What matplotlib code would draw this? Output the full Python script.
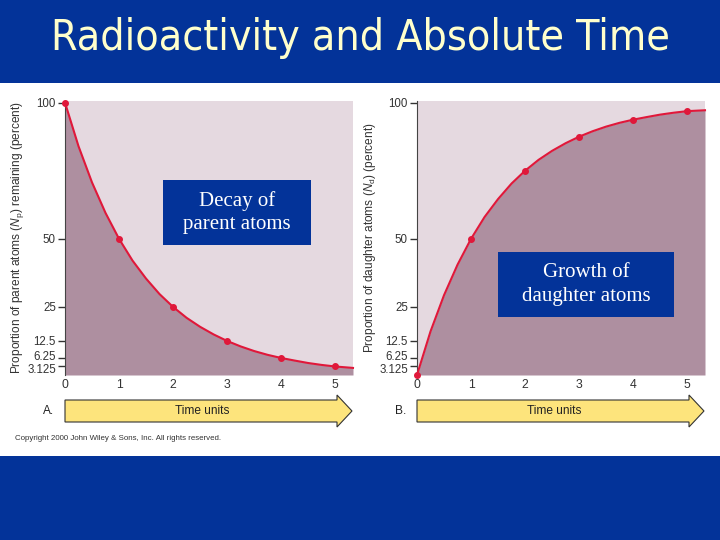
import matplotlib
matplotlib.use("Agg")
import matplotlib.pyplot as plt
import matplotlib.transforms as mtransforms
from matplotlib.patches import Rectangle, FancyArrow

# ---- data ----
half_lives = [0, 1, 2, 3, 4, 5]
parent_pts = [100, 50, 25, 12.5, 6.25, 3.125]
daughter_pts = [0, 50, 75, 87.5, 93.75, 96.875]

# curve
curve_t = [0, 0.25, 0.5, 0.75, 1, 1.25, 1.5, 1.75, 2, 2.25, 2.5, 2.75, 3,
           3.25, 3.5, 3.75, 4, 4.25, 4.5, 4.75, 5, 5.33]
parent_curve = [100, 84, 70.7, 59.5, 50, 42, 35.4, 29.7, 25, 21, 17.7, 14.9, 12.5,
                10.5, 8.8, 7.4, 6.25, 5.3, 4.4, 3.7, 3.125, 2.6]
daughter_curve = [0, 16, 29.3, 40.5, 50, 58, 64.6, 70.3, 75, 79, 82.3, 85.1, 87.5,
                  89.5, 91.2, 92.6, 93.75, 94.7, 95.6, 96.3, 96.875, 97.2]

yticks = [100, 50, 25, 12.5, 6.25, 3.125]
ytick_labels = ["100", "50", "25", "12.5", "6.25", "3.125"]
xticks = [0, 1, 2, 3, 4, 5]

title = "Radioactivity and Absolute Time"

BLUE = "#033399"
LIGHT = "#e5d9e0"
DARK = "#ae8fa0"
RED = "#e0183a"
YELLOW = "#fde47c"
SANS = "Liberation Sans"

plt.rcParams["mathtext.fontset"] = "custom"
plt.rcParams["mathtext.it"] = "Liberation Sans:italic"
plt.rcParams["mathtext.rm"] = "Liberation Sans"

fig = plt.figure(figsize=(7.2, 5.4), dpi=100)
fig.patch.set_facecolor(BLUE)

# white content band
fig.patches.append(Rectangle((0, 1 - 456 / 540), 1, (456 - 83) / 540,
                             transform=fig.transFigure, facecolor="white",
                             edgecolor="none", zorder=-5))

fig.text(0.5, 1 - 38 / 540, title, ha="center", va="center",
         fontsize=30.7, color="#ffffcc", family="DejaVu Sans",
         fontstretch="condensed")


def panel(left_px, ypts, ycurve, ylabel, letter, box_text, box_xy):
    ax = fig.add_axes([left_px / 720, 1 - 375 / 540, 288 / 720, 274 / 540])
    ax.set_zorder(1)
    ax.set_facecolor(LIGHT)
    ax.fill_between(curve_t, 0, ycurve, color=DARK, lw=0, zorder=1)
    ax.plot(curve_t, ycurve, color=RED, lw=1.5, zorder=3, clip_on=False)
    ax.plot(half_lives, ypts, "o", color=RED, ms=4, zorder=4, clip_on=False)
    ax.set_xlim(0, 5.33)
    ax.set_ylim(0, 100.6)
    ax.set_xticks(xticks)
    ax.set_yticks(yticks)
    ax.set_yticklabels(ytick_labels)
    ax.tick_params(axis="y", length=5, width=1, color="#333333",
                   labelsize=8.3, labelcolor="#333333", pad=1.5)
    ax.tick_params(axis="x", length=0, labelsize=8.8, labelcolor="#333333", pad=3)
    for lab in ax.get_xticklabels() + ax.get_yticklabels():
        lab.set_family(SANS)
    # small vertical nudges so the two lowest labels do not collide
    ylabs = ax.get_yticklabels()
    for lab, dy in [(ylabs[4], 2.2), (ylabs[5], -2.2)]:
        lab.set_transform(lab.get_transform() +
                          mtransforms.ScaledTranslation(0, dy / 100, fig.dpi_scale_trans))
    for s in ["top", "right", "bottom"]:
        ax.spines[s].set_visible(False)
    ax.spines["left"].set_color("#444444")
    ax.set_ylabel(ylabel, fontsize=8.6, color="#333333", labelpad=1, family=SANS)

    # arrow
    y0 = 1 - 411 / 540
    fig.patches.append(FancyArrow(left_px / 720, y0, 287 / 720, 0,
                                  width=22 / 540, head_width=32 / 540,
                                  head_length=15 / 720, length_includes_head=True,
                                  transform=fig.transFigure, facecolor=YELLOW,
                                  edgecolor="#333333", lw=0.8, zorder=2))
    fig.text((left_px + 137) / 720, y0, "Time units", ha="center", va="center",
             fontsize=8.6, color="#222222", zorder=3, family=SANS)
    fig.text((left_px - 22) / 720, y0, letter, ha="left", va="center",
             fontsize=8.6, color="#222222", family=SANS)

    # label box
    bx0, by0, bx1, by1 = box_xy
    fig.patches.append(Rectangle((bx0 / 720, 1 - by1 / 540), (bx1 - bx0) / 720,
                                 (by1 - by0) / 540, transform=fig.transFigure,
                                 facecolor=BLUE, edgecolor="none", zorder=5))
    fig.text((bx0 + bx1) / 2 / 720, 1 - (by0 + by1) / 2 / 540, box_text,
             ha="center", va="center", fontsize=15, color="white",
             family="Liberation Serif", linespacing=1.3, zorder=6)
    return ax


panel(65, parent_pts, parent_curve,
      r"Proportion of parent atoms ($N_\mathrm{p}$) remaining (percent)",
      "A.", "Decay of\nparent atoms", (163, 180, 311, 245))
panel(417, daughter_pts, daughter_curve,
      r"Proportion of daughter atoms ($N_\mathrm{d}$) (percent)",
      "B.", "Growth of\ndaughter atoms", (498, 252, 674, 317))

fig.text(15 / 720, 1 - 439 / 540,
         "Copyright 2000 John Wiley & Sons, Inc. All rights reserved.",
         ha="left", va="center", fontsize=5.7, color="#333333", family=SANS)

fig.savefig("out.png", dpi=100, facecolor=fig.get_facecolor())
